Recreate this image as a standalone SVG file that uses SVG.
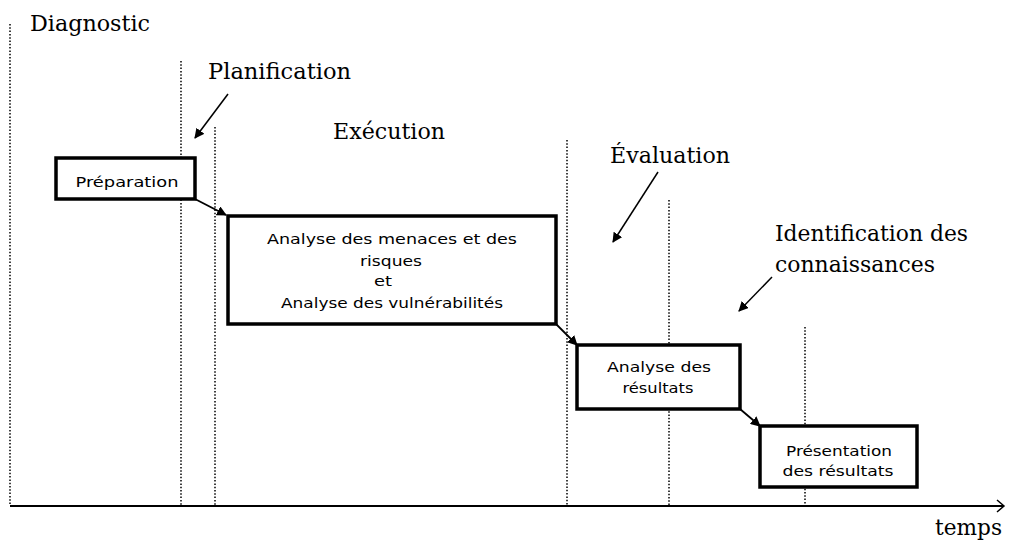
<svg xmlns="http://www.w3.org/2000/svg" width="1010" height="547" viewBox="0 0 1010 547">
  <style>
    .phase { font-family: "DejaVu Serif", "Liberation Serif", serif; font-size: 22px; fill: #000; }
    .box { fill: #fff; stroke: #000; stroke-width: 3.5; }
    .btxt { font-family: "DejaVu Sans", "Liberation Sans", sans-serif; font-size: 14px; fill: #000; text-anchor: middle; }
    .grid { stroke: #000; stroke-width: 1.5; stroke-dasharray: 1.5 1.8; fill: none; }
    .link { stroke: #000; stroke-width: 1.8; fill: none; marker-end: url(#head); }
    .pointer { stroke: #000; stroke-width: 1.5; fill: none; marker-end: url(#head); }
  </style>
  <defs>
    <marker id="head" viewBox="0 0 10 10" refX="9" refY="5" markerWidth="10" markerHeight="10" markerUnits="userSpaceOnUse" orient="auto">
      <path d="M0,0 L10,5 L0,10 z" fill="#000"/>
    </marker>
  </defs>

  <rect width="1010" height="547" fill="#fff"/>

  <!-- phase boundaries -->
  <g id="phase-lines">
    <line class="grid" x1="10" y1="24" x2="10" y2="505"/>
    <line class="grid" x1="181" y1="61" x2="181" y2="505"/>
    <line class="grid" x1="215" y1="127" x2="215" y2="505"/>
    <line class="grid" x1="567" y1="140" x2="567" y2="505"/>
    <line class="grid" x1="669" y1="200" x2="669" y2="505"/>
    <line class="grid" x1="805" y1="327" x2="805" y2="505"/>
  </g>

  <!-- time axis -->
  <g id="axis">
    <line x1="10" y1="506" x2="1003" y2="506" stroke="#000" stroke-width="2"/>
    <path d="M997,500 L1004,506 L997,512" stroke="#000" stroke-width="1.5" fill="none"/>
    <text class="phase" x="935" y="535" textLength="67" lengthAdjust="spacingAndGlyphs">temps</text>
  </g>

  <!-- phase labels -->
  <g id="labels">
    <text class="phase" x="30" y="31" textLength="120" lengthAdjust="spacingAndGlyphs">Diagnostic</text>
    <text class="phase" x="208" y="79" textLength="143" lengthAdjust="spacingAndGlyphs">Planification</text>
    <text class="phase" x="333" y="139" textLength="112" lengthAdjust="spacingAndGlyphs">Exécution</text>
    <text class="phase" x="610" y="163" textLength="120" lengthAdjust="spacingAndGlyphs">Évaluation</text>
    <text class="phase" x="775" y="241" textLength="193" lengthAdjust="spacingAndGlyphs">Identification des</text>
    <text class="phase" x="775" y="272" textLength="160" lengthAdjust="spacingAndGlyphs">connaissances</text>
  </g>

  <!-- connectors -->
  <g id="connectors">
    <line class="pointer" x1="228" y1="94" x2="195" y2="138"/>
    <line class="pointer" x1="658" y1="172" x2="613" y2="242"/>
    <line class="pointer" x1="772" y1="277" x2="739" y2="311"/>
    <line class="link" x1="195" y1="199" x2="226" y2="215"/>
    <line class="link" x1="556" y1="324" x2="577" y2="345"/>
    <line class="link" x1="740" y1="409" x2="760" y2="426"/>
  </g>

  <!-- process steps -->
  <g id="preparation">
    <rect class="box" x="56" y="158" width="139" height="41"/>
    <text class="btxt" x="127" y="187" textLength="103" lengthAdjust="spacingAndGlyphs">Préparation</text>
  </g>

  <g id="analyse-menaces">
    <rect class="box" x="228" y="216" width="328" height="108"/>
    <text class="btxt" x="392" y="244" textLength="250" lengthAdjust="spacingAndGlyphs">Analyse des menaces et des</text>
    <text class="btxt" x="391" y="266" textLength="62" lengthAdjust="spacingAndGlyphs">risques</text>
    <text class="btxt" x="383" y="286" textLength="18" lengthAdjust="spacingAndGlyphs">et</text>
    <text class="btxt" x="392" y="308" textLength="222" lengthAdjust="spacingAndGlyphs">Analyse des vulnérabilités</text>
  </g>

  <g id="analyse-resultats">
    <rect class="box" x="577" y="345" width="163" height="64"/>
    <text class="btxt" x="659" y="372" textLength="104" lengthAdjust="spacingAndGlyphs">Analyse des</text>
    <text class="btxt" x="658" y="393" textLength="71" lengthAdjust="spacingAndGlyphs">résultats</text>
  </g>

  <g id="presentation">
    <rect class="box" x="760" y="426" width="157" height="61"/>
    <text class="btxt" x="839" y="456" textLength="106" lengthAdjust="spacingAndGlyphs">Présentation</text>
    <text class="btxt" x="838" y="476" textLength="111" lengthAdjust="spacingAndGlyphs">des résultats</text>
  </g>
</svg>
